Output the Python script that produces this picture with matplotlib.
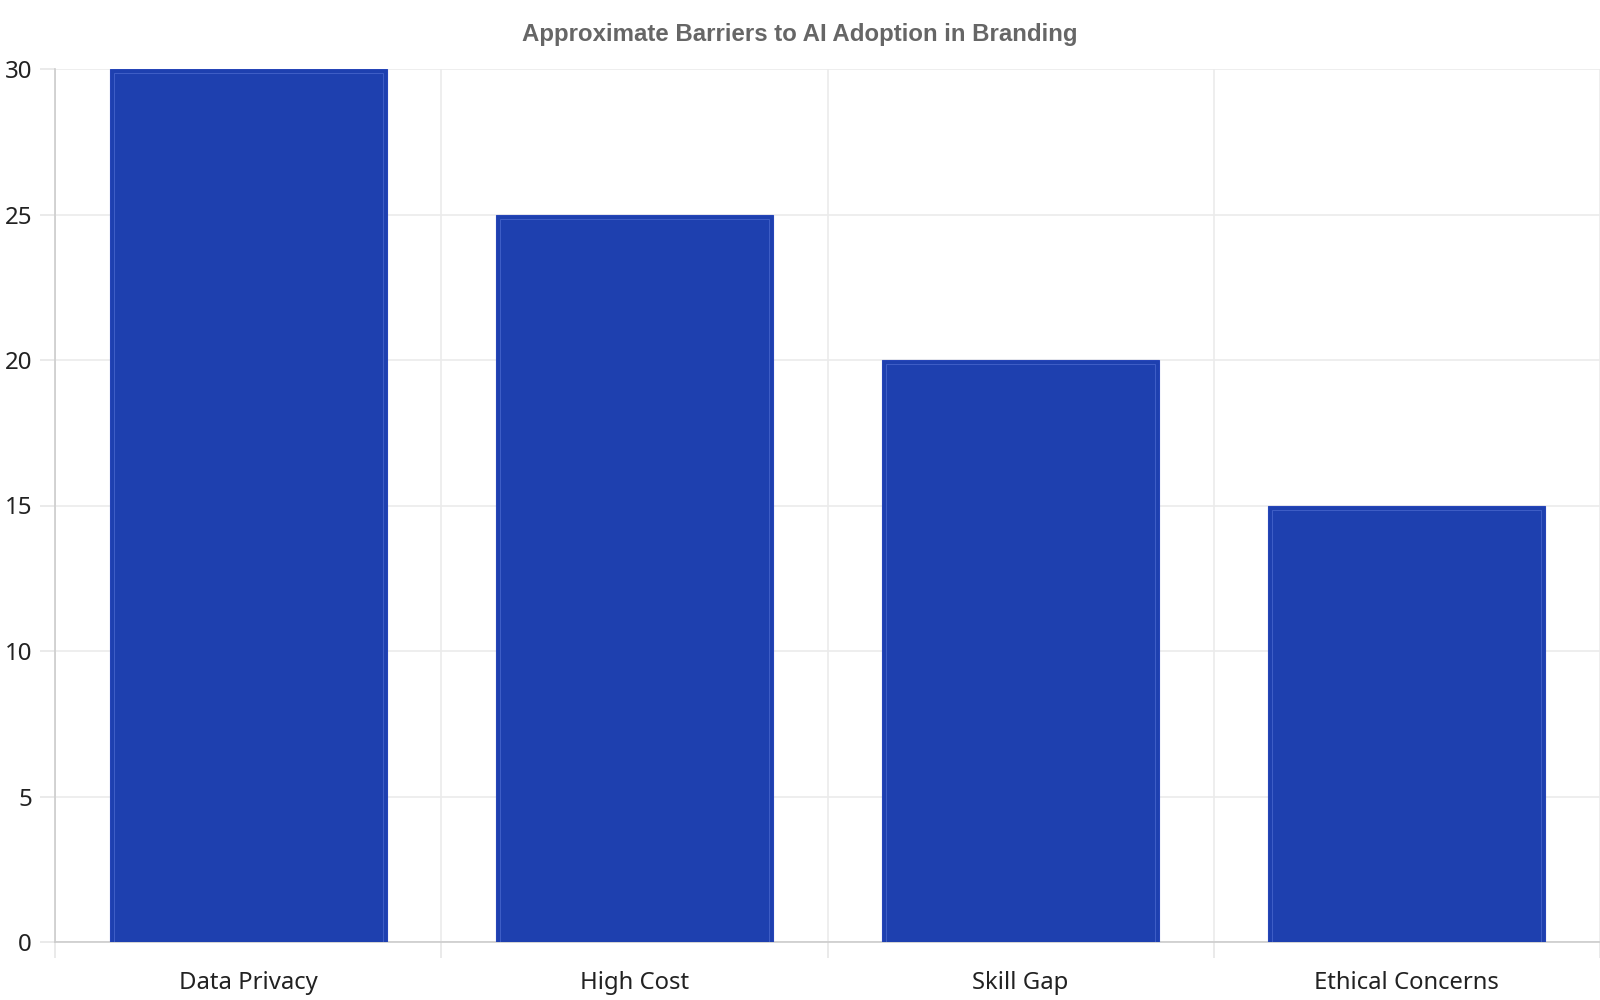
import matplotlib
matplotlib.use("Agg")
import matplotlib.pyplot as plt
import numpy as np

categories = ["Data Privacy", "High Cost", "Skill Gap", "Ethical Concerns"]
values = [30, 25, 20, 15]
y_ticks = [0, 5, 10, 15, 20, 25, 30]

plt.rcParams['font.family'] = ['Noto Sans', 'DejaVu Sans']

fig = plt.figure(figsize=(16, 10), dpi=100)
ax = fig.add_axes([0.034375, 0.058, 1.0 - 0.034375, 0.931 - 0.058])

x = np.arange(len(categories))
ax.bar(x, values, width=0.717, color='#1e40af', edgecolor='#2645b8', linewidth=0.8, zorder=3)
# faint inner highlight line
ax.bar(x, [v - 0.14 for v in values], width=0.696, fill=False, edgecolor='#5673d6',
       linewidth=0.7, alpha=0.6, zorder=4)

ax.set_xlim(-0.5, len(categories) - 0.5)
ax.set_ylim(0, 30)
ax.set_yticks(y_ticks)
ax.set_yticklabels([str(t) for t in y_ticks], fontsize=17.3, color='#222222')
ax.set_xticks(x)
ax.set_xticklabels(categories, fontsize=17.2, color='#222222')
ax.set_xticks(np.arange(-0.5, len(categories), 1.0), minor=True)

ax.tick_params(axis='x', which='major', length=0, pad=21)
ax.tick_params(axis='x', which='minor', length=11.7, color='#e6e6e6', width=1.2)
ax.tick_params(axis='y', which='major', length=10.8, color='#e6e6e6', width=1.2, pad=5.8)

ax.grid(True, axis='y', which='major', color='#ebebeb', linewidth=1.2, zorder=0)
ax.grid(True, axis='x', which='minor', color='#ebebeb', linewidth=1.2, zorder=0)
ax.grid(False, axis='x', which='major')

for s in ['top', 'right']:
    ax.spines[s].set_visible(False)
for s in ['left', 'bottom']:
    ax.spines[s].set_color('#cccccc')
    ax.spines[s].set_linewidth(1.2)

fig.text(0.5, 0.966, "Approximate Barriers to AI Adoption in Branding", ha='center', va='center',
         fontsize=17.3, fontweight='bold', color='#666666', family=['Liberation Sans', 'DejaVu Sans'])

fig.savefig("out.png", dpi=100)
